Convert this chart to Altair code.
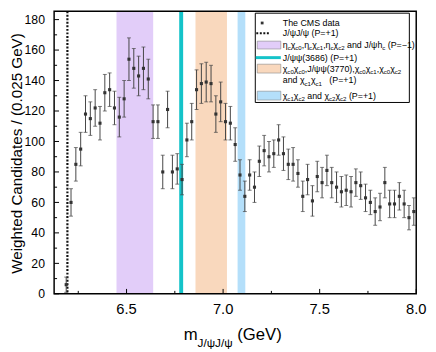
import altair as alt
import pandas as pd

# ---------------- data ----------------
bin_start = 6.1875
bin_width = 0.025
counts = [6, 60, 85, 95, 118, 115, 122, 112, 132, 134, 122, 116, 128,
          154, 148, 143, 148, 141, 113, 113, 80, 121, 80, 82,
          75, 101, 113, 134, 138, 139, 138, 118, 126, 113, 112, 98,
          78, 64, 78, 70, 87, 94, 90, 92, 101, 92, 85, 85, 79, 64,
          75, 61, 77, 73, 81, 73, 70, 67, 68, 67, 73, 71, 63, 60,
          54, 57, 73, 59, 59, 64, 59, 50, 54]
errors = [5, 9, 11, 11, 12, 11, 12, 11, 12, 11, 11, 13, 12,
          14, 13, 13, 14, 13, 11, 11, 11, 12, 11, 10,
          10, 11, 12, 13, 13, 13, 12, 12, 13, 12, 11, 11,
          10, 10, 10, 10, 10, 10, 10, 9, 10, 11, 10, 11, 9, 10,
          10, 10, 10, 10, 10, 10, 10, 10, 10, 10, 9, 9, 9, 8,
          9, 9, 10, 9, 9, 9, 9, 8, 9]
mass = [round(bin_start + bin_width * i, 4) for i in range(len(counts))]

band_lo = [6.448, 6.857, 7.075]
band_hi = [6.638, 7.020, 7.115]
band_colors = ["#e2cdf9", "#f9d8bd", "#b4dffa"]

thr_jpsijpsi = [6.1938]
thr_jpsipsi2s = [6.7829]

x_major = [6.5, 7.0, 7.5, 8.0]
x_tick_labels = ["6.5", "7.0", "7.5", "8.0"]
x_minor = [6.25, 6.75, 7.25, 7.75]
y_major = [0, 20, 40, 60, 80, 100, 120, 140, 160, 180]
y_tick_labels = ["0", "20", "40", "60", "80", "100", "120", "140", "160", "180"]
y_minor = [10, 30, 50, 70, 90, 110, 130, 150, 170]
y_title = "Weighted Candidates / (0.025 GeV)"

# ---------------- layout ----------------
W, H = 369, 288
OY = -7  # pixel offset of overlay items relative to the reference frame
FONT = "Liberation Sans"
xs = alt.Scale(domain=[6.125, 8.0], nice=False, zero=False)
ys = alt.Scale(domain=[0, 185.5], nice=False, zero=False)
px_x = alt.Scale(domain=[0, W], range=[0, W], nice=False, zero=False)
px_y = alt.Scale(domain=[0, H], range=[0, H], nice=False, zero=False)

EM = {' ': .278, '(': .333, ')': .333, '+': .584, ',': .278, '-': .333,
      '\u2212': .584, '.': .278, '/': .278, '=': .584, 'C': .722, 'G': .778,
      'J': .5, 'M': .833, 'P': .667, 'S': .667, 'T': .611, 'V': .667,
      'a': .556, 'c': .5, 'd': .556, 'e': .556, 'h': .556, 'm': .833,
      'n': .556, 's': .5, 't': .278, '\u03b7': .556, '\u03c7': .52,
      '\u03c8': .71}


def tw(s, size):
    return sum(EM.get(ch, .556) for ch in s) * size


def layout(x0, base, parts, fs, sfs, sdy):
    out = []
    x = x0
    for txt, sub in parts:
        size = sfs if sub else fs
        lead = len(txt) - len(txt.lstrip(' '))
        xx = x + tw(' ' * lead, size)
        stripped = txt.strip(' ')
        if stripped:
            out.append(dict(x=xx, y=base + OY + (sdy if sub else 0), t=stripped, fs=size))
        x += tw(txt, size)
    return out


M, S = False, True
fs, sfs, sdy = 9, 6.2, 2.5
tx = 233
rows = []
rows += layout(tx, 22.2, [("The CMS data", M)], fs, sfs, sdy)
rows += layout(tx, 32.5, [("J/\u03c8J/\u03c8 (P=+1)", M)], fs, sfs, sdy)
rows += layout(tx, 44.5, [("\u03b7", M), ("c", S), ("\u03c7", M), ("c0", S),
                          (",\u03b7", M), ("c", S), ("\u03c7", M), ("c1", S),
                          (",\u03b7", M), ("c", S), ("\u03c7", M), ("c2", S),
                          (" and J/\u03c8h", M), ("c", S), (" (P=\u22121)", M)], fs, sfs, sdy)
rows += layout(tx, 57.3, [("J/\u03c8\u03c8(3686) (P=+1)", M)], fs, sfs, sdy)
rows += layout(tx, 68.5, [("\u03c7", M), ("c0", S), ("\u03c7", M), ("c0", S),
                          (",J/\u03c8\u03c8(3770),\u03c7", M), ("c0", S), ("\u03c7", M), ("c1", S),
                          (",\u03c7", M), ("c0", S), ("\u03c7", M), ("c2", S)], fs, sfs, sdy)
rows += layout(tx, 80.4, [("and \u03c7", M), ("c1", S), ("\u03c7", M), ("c1", S),
                          ("   (P=+1)", M)], fs, sfs, sdy)
rows += layout(tx, 96.3, [("\u03c7", M), ("c1", S), ("\u03c7", M), ("c2", S),
                          (" and \u03c7", M), ("c2", S), ("\u03c7", M), ("c2", S),
                          (" (P=+1)", M)], fs, sfs, sdy)
# x-axis title with subscript
rows += layout(132, 342, [("m", M), ("J/\u03c8J/\u03c8", S), (" (GeV)", M)], 17, 12, 7)
df_text = pd.DataFrame(rows)

df = pd.DataFrame({"m": mass, "n": counts, "e": errors})
df["lo"] = df["n"] - df["e"]
df["hi"] = df["n"] + df["e"]
df_bands = pd.DataFrame({"lo": band_lo, "hi": band_hi, "col": band_colors})
one = pd.DataFrame({"k": [0]})

NOAX = None

bands = alt.Chart(df_bands).mark_rect().encode(
    x=alt.X("lo:Q", scale=xs, axis=NOAX), x2="hi:Q",
    y=alt.value(0), y2=alt.value(H),
    color=alt.Color("col:N", scale=None))

psi2s = alt.Chart(pd.DataFrame({"m": thr_jpsipsi2s})).mark_rule(
    color="#14c3c9", strokeWidth=4).encode(
    x=alt.X("m:Q", scale=xs, axis=NOAX), y=alt.value(0), y2=alt.value(H))

jj = alt.Chart(pd.DataFrame({"m": thr_jpsijpsi})).mark_rule(
    color="#111111", strokeWidth=2.2, strokeDash=[2, 1.6]).encode(
    x=alt.X("m:Q", scale=xs, axis=NOAX), y=alt.value(0), y2=alt.value(H))

bars = alt.Chart(df).mark_rule(color="#444444", strokeWidth=1).encode(
    x=alt.X("m:Q", scale=xs, axis=NOAX),
    y=alt.Y("lo:Q", scale=ys, axis=NOAX), y2="hi:Q")
cap_lo = alt.Chart(df).mark_tick(color="#444444", orient="horizontal", size=4, thickness=1).encode(
    x=alt.X("m:Q", scale=xs, axis=NOAX), y=alt.Y("lo:Q", scale=ys, axis=NOAX))
cap_hi = alt.Chart(df).mark_tick(color="#444444", orient="horizontal", size=4, thickness=1).encode(
    x=alt.X("m:Q", scale=xs, axis=NOAX), y=alt.Y("hi:Q", scale=ys, axis=NOAX))
pts = alt.Chart(df).mark_point(shape="square", filled=True, size=10, color="#333333", opacity=1).encode(
    x=alt.X("m:Q", scale=xs, axis=NOAX),
    y=alt.Y("n:Q", scale=ys, axis=NOAX))

# inward ticks
xt_major = alt.Chart(pd.DataFrame({"v": x_major})).mark_rule(color="black", strokeWidth=1).encode(
    x=alt.X("v:Q", scale=xs, axis=NOAX), y=alt.value(H), y2=alt.value(H - 5))
xt_minor = alt.Chart(pd.DataFrame({"v": x_minor})).mark_rule(color="black", strokeWidth=1).encode(
    x=alt.X("v:Q", scale=xs, axis=NOAX), y=alt.value(H), y2=alt.value(H - 3))
yt_major = alt.Chart(pd.DataFrame({"v": y_major})).mark_rule(color="black", strokeWidth=1).encode(
    y=alt.Y("v:Q", scale=ys, axis=NOAX), x=alt.value(0), x2=alt.value(5))
yt_minor = alt.Chart(pd.DataFrame({"v": y_minor})).mark_rule(color="black", strokeWidth=1).encode(
    y=alt.Y("v:Q", scale=ys, axis=NOAX), x=alt.value(0), x2=alt.value(3))

# tick labels through the scales
x_labels = alt.Chart(pd.DataFrame({"v": x_major, "t": x_tick_labels})).mark_text(
    font=FONT, fontSize=15, color="black", align="center", baseline="alphabetic").encode(
    x=alt.X("v:Q", scale=xs, axis=NOAX), y=alt.value(H + 20.7), text="t:N")
y_labels = alt.Chart(pd.DataFrame({"v": y_major, "t": y_tick_labels})).mark_text(
    font=FONT, fontSize=12.5, color="black", align="right", baseline="alphabetic", dy=4.5).encode(
    y=alt.Y("v:Q", scale=ys, axis=NOAX), x=alt.value(-9.3), text="t:N")

main = alt.layer(bands, psi2s, jj, bars, cap_lo, cap_hi, pts,
                 xt_major, xt_minor, yt_major, yt_minor, x_labels, y_labels)

# overlay in pixel coordinates: frame + legend + titles
frame = alt.Chart(one).mark_rect(fill="white", fillOpacity=0, stroke="black", strokeWidth=1.5).encode(
    x=alt.value(0), x2=alt.value(W), y=alt.value(0), y2=alt.value(H))
ytitle = alt.Chart(pd.DataFrame({"t": [y_title]})).mark_text(
    font=FONT, fontSize=15.5, color="black", angle=270, align="center", baseline="alphabetic").encode(
    x=alt.value(-32.5), y=alt.value(152 + OY), text="t:N")
leg_box = alt.Chart(one).mark_rect(fill="white", stroke="black", strokeWidth=1).encode(
    x=alt.value(205), x2=alt.value(362), y=alt.value(9 + OY), y2=alt.value(100 + OY))
leg_dot = alt.Chart(one).mark_point(shape="square", filled=True, size=8, color="#333333", opacity=1).encode(
    x=alt.value(212), y=alt.value(19 + OY))
leg_dotted = alt.Chart(one).mark_rule(color="#111111", strokeWidth=2, strokeDash=[2, 1.6]).encode(
    x=alt.value(206), x2=alt.value(219), y=alt.value(29.5 + OY))
leg_cyan = alt.Chart(one).mark_rule(color="#14c3c9", strokeWidth=3).encode(
    x=alt.value(205.5), x2=alt.value(231), y=alt.value(54.3 + OY))
leg_p = alt.Chart(one).mark_rect(fill=band_colors[0], stroke="#888888", strokeWidth=0.6).encode(
    x=alt.value(207), x2=alt.value(231), y=alt.value(37.5 + OY), y2=alt.value(45.5 + OY))
leg_o = alt.Chart(one).mark_rect(fill=band_colors[1], stroke="#888888", strokeWidth=0.6).encode(
    x=alt.value(207), x2=alt.value(231), y=alt.value(61 + OY), y2=alt.value(70 + OY))
leg_b = alt.Chart(one).mark_rect(fill=band_colors[2], stroke="#888888", strokeWidth=0.6).encode(
    x=alt.value(207), x2=alt.value(231), y=alt.value(88.5 + OY), y2=alt.value(97.5 + OY))

texts = alt.Chart(df_text).mark_text(align="left", baseline="alphabetic", font=FONT,
                                     color="black").encode(
    x=alt.X("x:Q", scale=px_x, axis=None), y=alt.Y("y:Q", scale=px_y, axis=None),
    text="t:N", size=alt.Size("fs:Q", scale=None))

overlay = alt.layer(frame, ytitle, leg_box, leg_dot, leg_dotted, leg_cyan, leg_p, leg_o, leg_b, texts)

chart = alt.layer(main, overlay).resolve_scale(
    x="independent", y="independent"
).properties(
    width=W, height=H,
    padding={"left": 47, "top": 0, "right": 12, "bottom": 56},
    autosize=alt.AutoSizeParams(type="none"),
).configure_view(stroke=None)

chart.save("out.html", embed_options={"renderer": "svg", "actions": False})
